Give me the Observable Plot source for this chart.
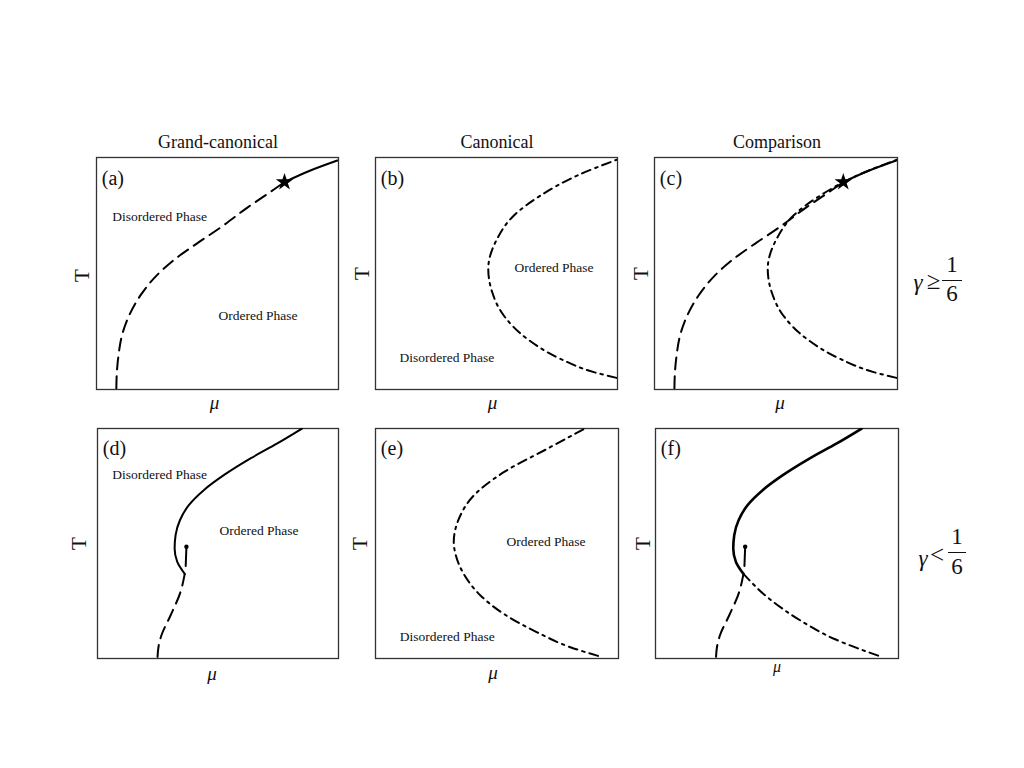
<!DOCTYPE html>
<html><head><meta charset="utf-8">
<script src="https://cdn.jsdelivr.net/npm/d3@7"></script>
<script src="https://cdn.jsdelivr.net/npm/@observablehq/plot@0.6"></script>
<style>
body{margin:0;background:#fff;font-family:"Liberation Serif",serif;}
#root{position:relative;width:1024px;height:768px;overflow:hidden;background:#fff;}
.abs{position:absolute;transform:translate(-50%,-50%);white-space:nowrap;color:#111;line-height:1;}
.ttl{font-size:18px;}
.gm{font-size:23px;}
.rel{font-size:25px;}
.bar{position:absolute;height:1.3px;background:#111;}
svg{position:absolute;}
</style></head><body><div id="root"></div>
<script>
// ---- data (μ, T in normalised units: 0 = left/bottom of frame, 1 = right/top) ----
const columnTitles = ["Grand-canonical", "Canonical", "Comparison"];
const panelLetters = ["(a)", "(b)", "(c)", "(d)", "(e)", "(f)"];
const rowRelations = ["≥", "<"];
const fractionParts = ["1", "6"];
const regionNames = ["Disordered Phase", "Ordered Phase"];

// gamma >= 1/6
const gcFirstOrderDashed = [[0.082,0.005],[0.083,0.05],[0.086,0.1],[0.090,0.139],[0.107,0.24],[0.138,0.326],[0.186,0.412],[0.248,0.491],[0.317,0.556],[0.413,0.628],[0.512,0.698],[0.622,0.783],[0.733,0.862],[0.777,0.894]];
const gcSecondOrderSolid = [[0.777,0.894],[0.884,0.944],[0.995,0.987]];
const tricriticalPoint = [[0.777,0.894]];
const canonicalCurve1 = [[0.996,0.05],[0.902,0.075],[0.764,0.132],[0.627,0.218],[0.530,0.319],[0.482,0.42],[0.466,0.52],[0.503,0.65],[0.572,0.75],[0.682,0.836],[0.833,0.922],[0.996,0.99]];

// gamma < 1/6
const gcSolid2 = [[0.849,1.0],[0.746,0.935],[0.635,0.870],[0.524,0.797],[0.441,0.732],[0.379,0.667],[0.342,0.601],[0.324,0.536],[0.320,0.478],[0.331,0.420],[0.362,0.368]];
const gcDashed2 = [[0.362,0.368],[0.344,0.288],[0.303,0.187],[0.265,0.1],[0.253,0.05],[0.249,0.005]];
const stubLine2 = [[0.366,0.402],[0.369,0.486]];
const endPoint2 = [[0.369,0.486]];
const canonicalCurve2 = [[0.855,0.996],[0.707,0.912],[0.528,0.81],[0.405,0.709],[0.343,0.607],[0.322,0.506],[0.329,0.455],[0.363,0.368],[0.432,0.274],[0.528,0.194],[0.665,0.114],[0.802,0.049],[0.933,0.006]];
const canonicalLow2 = [[0.362,0.368],[0.460,0.267],[0.597,0.165],[0.734,0.086],[0.933,0.006]];

// region labels [x, y, text index]
const labelsA = [[0.065,0.743,0],[0.504,0.319,1]];
const labelsB = [[0.574,0.523,1],[0.099,0.139,0]];
const labelsD = [[0.061,0.799,0],[0.506,0.557,1]];
const labelsE = [[0.539,0.509,1],[0.100,0.093,0]];

// ---- drawing ----
const root = document.getElementById("root");
const FONT = "Liberation Serif";
const mL = 40, mT = 10, mR = 10, mB = 35;

const dashed = {strokeDasharray: "12,7"};
const dashdot = {strokeDasharray: "9,5,2.5,5"};

function lineMark(data, style, width = 2) {
  return Plot.line(data, {x: d => d[0], y: d => d[1], curve: "monotone-y", stroke: "#000", strokeWidth: width, clip: true, ...style});
}
function letterMark(i, y) {
  return Plot.text([panelLetters[i]], {x: 0.022, y, text: d => d, textAnchor: "start", lineAnchor: "middle", fontSize: 20, fill: "#111"});
}
function regionMarks(labels) {
  return Plot.text(labels, {x: d => d[0], y: d => d[1], text: d => regionNames[d[2]], textAnchor: "start", lineAnchor: "middle", fontSize: 13.5, fill: "#111"});
}

function panel(left, top, w, h, marks, ax) {
  const chart = Plot.plot({
    width: w + mL + mR, height: h + mT + mB,
    marginLeft: mL, marginTop: mT, marginRight: mR, marginBottom: mB,
    x: {domain: [0, 1], axis: null},
    y: {domain: [0, 1], axis: null},
    style: {fontFamily: FONT, background: "transparent", overflow: "visible"},
    marks: [
      Plot.frame({stroke: "#333", strokeWidth: 1.3}),
      ...marks,
      Plot.text(["T"], {frameAnchor: "left", text: d => d, dx: ax.tdx, dy: ax.tdy || 0, rotate: -90, textAnchor: "middle", lineAnchor: "middle", fontSize: 21, fill: "#111"}),
      Plot.text(["μ"], {frameAnchor: "bottom", text: d => d, dx: ax.mdx, dy: ax.mdy, textAnchor: "middle", lineAnchor: "middle", fontSize: ax.mfs || 19, fontStyle: "italic", fill: "#111"})
    ]
  });
  chart.style.left = (left - mL) + "px";
  chart.style.top = (top - mT) + "px";
  root.appendChild(chart);
}

// row 1
panel(96, 157, 242, 232, [
  lineMark(gcFirstOrderDashed, dashed),
  lineMark(gcSecondOrderSolid, {}),
  Plot.dot(tricriticalPoint, {x: d => d[0], y: d => d[1], symbol: "star", fill: "#000", r: 5.5}),
  letterMark(0, 0.909),
  regionMarks(labelsA)
], {tdx: -14, tdy: 2, mdx: -3, mdy: 13});

panel(375, 157, 242, 232, [
  lineMark(canonicalCurve1, dashdot),
  letterMark(1, 0.907),
  regionMarks(labelsB)
], {tdx: -13, tdy: 0, mdx: -4, mdy: 13});

panel(654, 157, 243, 232, [
  lineMark(canonicalCurve1, dashdot),
  lineMark(gcFirstOrderDashed, dashed),
  lineMark(gcSecondOrderSolid, {}),
  Plot.dot(tricriticalPoint, {x: d => d[0], y: d => d[1], symbol: "star", fill: "#000", r: 5.5}),
  letterMark(2, 0.908)
], {tdx: -13, tdy: 0, mdx: 4, mdy: 13});

// row 2
panel(97, 428, 241, 230, [
  lineMark(gcSolid2, {}),
  lineMark(gcDashed2, dashed),
  lineMark(stubLine2, {}, 2),
  Plot.dot(endPoint2, {x: d => d[0], y: d => d[1], fill: "#000", r: 2.2}),
  letterMark(3, 0.912),
  regionMarks(labelsD)
], {tdx: -18, tdy: 0, mdx: -6, mdy: 15});

panel(375, 428, 243, 230, [
  lineMark(canonicalCurve2, dashdot),
  letterMark(4, 0.912),
  regionMarks(labelsE)
], {tdx: -15, tdy: 0, mdx: -4, mdy: 14});

panel(655, 428, 243, 230, [
  lineMark(canonicalLow2, dashdot),
  lineMark(gcSolid2, {}, 2.6),
  lineMark(gcDashed2, dashed),
  lineMark(stubLine2, {}, 2),
  Plot.dot(endPoint2, {x: d => d[0], y: d => d[1], fill: "#000", r: 2.2}),
  letterMark(5, 0.912)
], {tdx: -12, tdy: 0, mdx: 0, mdy: 8, mfs: 16});

// column titles
const titleX = [218, 497, 777];
columnTitles.forEach((t, i) => {
  const el = document.createElement("div");
  el.className = "abs ttl";
  el.textContent = t;
  el.style.left = titleX[i] + "px";
  el.style.top = "142px";
  root.appendChild(el);
});

// row labels: gamma relation 1/6
const rowPos = [
  {g: [918, 282], r: [933.5, 280], bar: [942, 962, 279.5], n: [952, 264], d: [952, 293]},
  {g: [923, 558], r: [937, 554], bar: [948, 966, 551.7], n: [957, 536], d: [957, 566]}
];
rowRelations.forEach((rel, i) => {
  const p = rowPos[i];
  const add = (txt, xy, cls, italic) => {
    const el = document.createElement("div");
    el.className = "abs " + cls;
    el.textContent = txt;
    if (italic) el.style.fontStyle = "italic";
    el.style.left = xy[0] + "px"; el.style.top = xy[1] + "px";
    root.appendChild(el);
  };
  add("γ", p.g, "gm", true);
  add(rel, p.r, "rel", false);
  add(fractionParts[0], p.n, "gm", false);
  add(fractionParts[1], p.d, "gm", false);
  const b = document.createElement("div");
  b.className = "bar";
  b.style.left = p.bar[0] + "px"; b.style.width = (p.bar[1] - p.bar[0]) + "px"; b.style.top = p.bar[2] + "px";
  root.appendChild(b);
});
</script></body></html>
